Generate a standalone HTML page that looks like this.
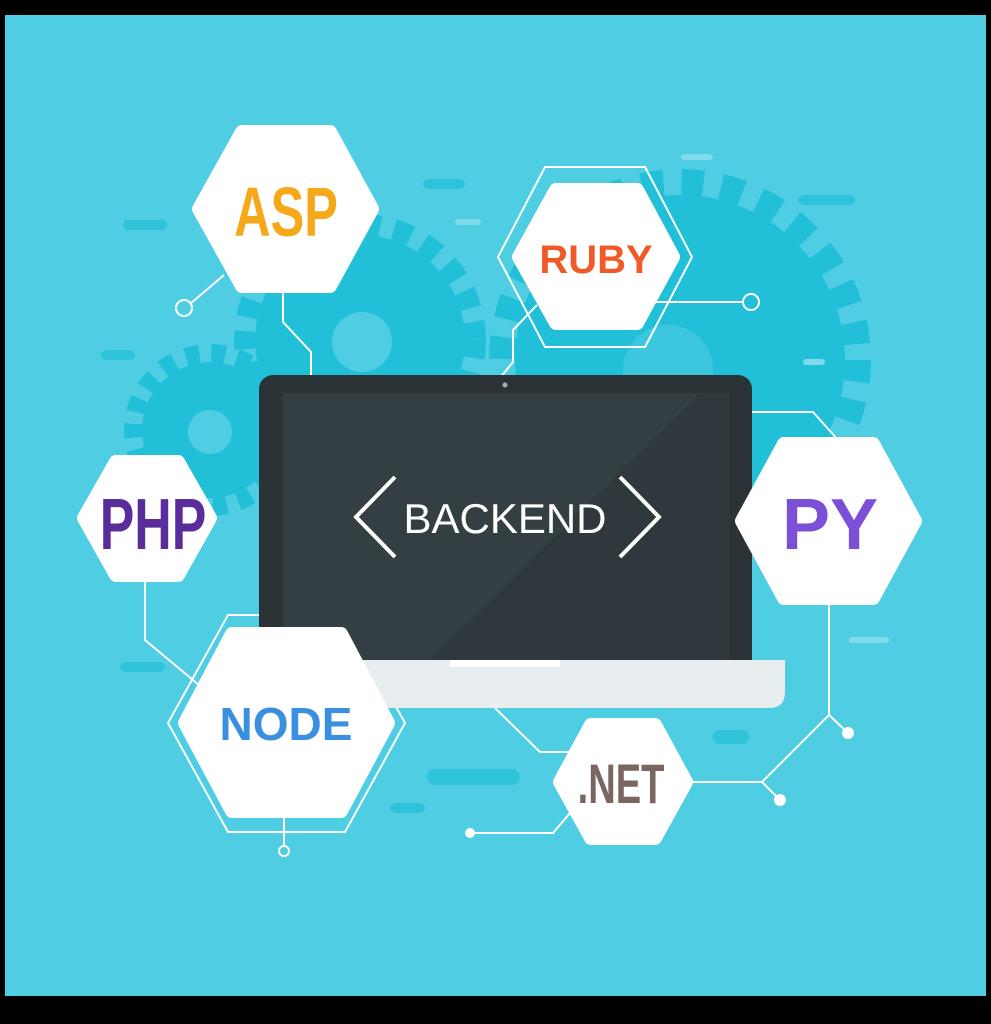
<!DOCTYPE html>
<html><head><style>
html,body{margin:0;padding:0;background:#000;}
svg{display:block}
text{font-family:"Liberation Sans",sans-serif;font-weight:bold}
</style></head><body>
<svg width="991" height="1024" viewBox="0 0 991 1024" xmlns="http://www.w3.org/2000/svg">
<rect x="0" y="0" width="991" height="1024" fill="#000"/>
<rect x="5" y="15" width="981" height="981" fill="#4ecde3"/>
<!-- gears -->
<g fill="#22bfd9">
<circle cx="680" cy="360" r="165"/>
<circle cx="680" cy="360" r="178" fill="none" stroke="#22bfd9" stroke-width="26" stroke-dasharray="22 18"/>
<circle cx="360" cy="340" r="105"/>
<circle cx="360" cy="340" r="115" fill="none" stroke="#22bfd9" stroke-width="22" stroke-dasharray="18 14"/>
<circle cx="210" cy="430" r="68"/>
<circle cx="210" cy="430" r="77" fill="none" stroke="#22bfd9" stroke-width="18" stroke-dasharray="14 12"/>
</g>
<circle cx="362" cy="342" r="30" fill="#4ecde3"/>
<circle cx="210" cy="432" r="22" fill="#4ecde3"/>
<circle cx="668" cy="370" r="45" fill="#4ecde3" opacity="0.6"/>
<!-- dashes -->
<g stroke="#2fc3da" stroke-width="10" stroke-linecap="round">
<line x1="128" y1="225" x2="162" y2="225"/><line x1="106" y1="355" x2="130" y2="355"/>
<line x1="428" y1="184" x2="460" y2="184"/><line x1="803" y1="200" x2="850" y2="200"/>
<line x1="125" y1="667" x2="160" y2="667"/><line x1="435" y1="777" x2="512" y2="777" stroke-width="16"/>
<line x1="720" y1="737" x2="742" y2="737" stroke-width="14"/><line x1="395" y1="808" x2="420" y2="808"/>
</g>
<g stroke="#7fdbeb" stroke-width="6" stroke-linecap="round">
<line x1="458" y1="222" x2="478" y2="222"/><line x1="684" y1="157" x2="710" y2="157"/>
<line x1="806" y1="362" x2="822" y2="362"/><line x1="852" y1="640" x2="886" y2="640"/>
</g>
<!-- connectors -->
<g stroke="#ffffff" stroke-width="2" fill="none">
<path d="M224 275 L190 304"/><circle cx="184" cy="308" r="8"/>
<path d="M283 293 V322 L311 352 V378"/>
<path d="M537 305 L513 330 V362 L500 378"/>
<path d="M655 302 H743"/><circle cx="751" cy="302" r="8"/>
<path d="M752 412 H813 L838 440"/>
<path d="M145 582 V640 L205 690"/>
<path d="M284 818 V845"/><circle cx="284" cy="851" r="5"/>
<path d="M495 708 L540 752 H570"/>
<path d="M570 813 L553 833 H475"/>
<path d="M693 782 H762 L829 715 V605 M829 715 L848 733 M762 782 L780 800"/>
<!-- outlined rings -->
<polygon points="498,257 545,167 645,167 692,257 645,347 545,347" stroke-linejoin="round"/>
<polygon points="168,723 228,615 345,615 405,723 345,832 228,832" stroke-linejoin="round"/>
</g>
<g fill="#fff"><circle cx="848" cy="733" r="6"/><circle cx="780" cy="800" r="6"/><circle cx="470" cy="833" r="5"/></g>
<!-- laptop -->
<rect x="259" y="375" width="493" height="300" rx="14" fill="#2b3337"/>
<rect x="283" y="393" width="447" height="267" fill="#343f44"/>
<polygon points="430,660 700,393 730,393 730,660" fill="#2f393d"/>
<circle cx="505" cy="385" r="2.5" fill="#aab"/>
<path d="M228 660 H785 V692 Q785 708 769 708 H244 Q228 708 228 692 Z" fill="#e8eef0"/>
<rect x="450" y="660" width="110" height="7" fill="#ffffff"/>
<text x="505" y="533" font-size="42" font-weight="normal" fill="#fff" text-anchor="middle" style="font-weight:normal">BACKEND</text>
<path d="M395 477 L356 517 L395 557" stroke="#fff" stroke-width="4" fill="none"/>
<path d="M620 477 L659 517 L620 557" stroke="#fff" stroke-width="4" fill="none"/>
<!-- hexagons -->
<g fill="#fff" stroke="#fff" stroke-width="14" stroke-linejoin="round">
<polygon points="199,209 242,132 330,132 372,209 330,286 242,286"/>
<polygon points="519,257 556,190 637,190 673,257 637,323 556,323"/>
<polygon points="84,518 116,462 178,462 210,518 178,575 116,575"/>
<polygon points="742,521 784,444 873,444 915,521 873,598 784,598"/>
<polygon points="185,723 232,634 341,634 388,723 341,811 232,811"/>
<polygon points="560,782 591,725 655,725 686,782 655,838 591,838"/>
</g>
<!-- labels -->
<text transform="translate(286,236) scale(0.72,1)" font-size="70" fill="#f6a81b" text-anchor="middle">ASP</text>
<text x="596" y="273" font-size="40" fill="#f05a28" text-anchor="middle">RUBY</text>
<text transform="translate(153,549) scale(0.72,1)" font-size="72" fill="#5b2d9a" text-anchor="middle">PHP</text>
<text x="830" y="549" font-size="72" fill="#7b4fd8" text-anchor="middle">PY</text>
<text x="286" y="740" font-size="46" fill="#3a8fe0" text-anchor="middle">NODE</text>
<text transform="translate(621,803) scale(0.68,1)" font-size="56" fill="#7a6560" text-anchor="middle">.NET</text>
</svg>
</body></html>
